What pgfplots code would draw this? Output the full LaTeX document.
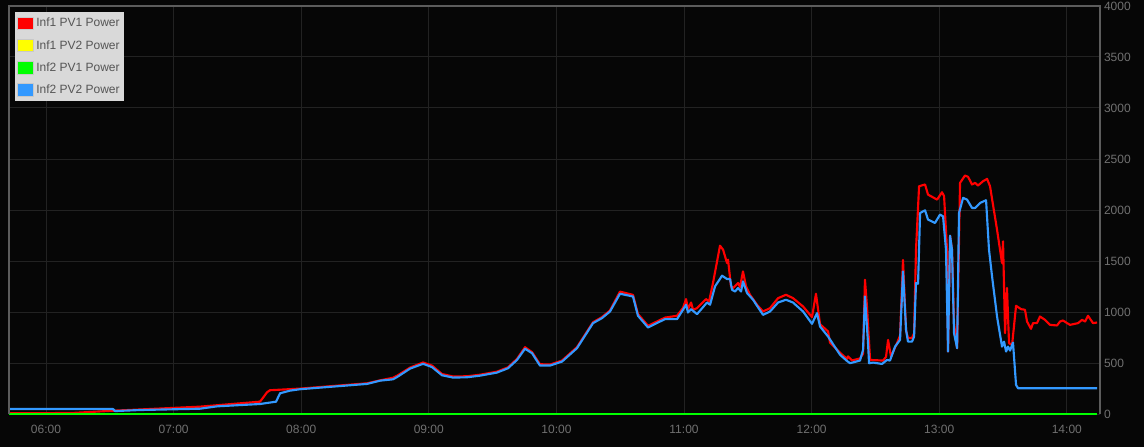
\documentclass[border=0pt]{standalone}
\usepackage{fontspec}
\setmainfont{Liberation Sans}
\usepackage{pgfplots}
\pgfplotsset{compat=1.18}
\definecolor{bgcol}{RGB}{6,6,6}
\definecolor{framecol}{RGB}{92,92,92}
\definecolor{gridcol}{RGB}{34,34,34}
\definecolor{tickcol}{RGB}{112,112,112}
\definecolor{legbg}{RGB}{217,217,217}
\definecolor{legtxt}{RGB}{85,85,85}
\definecolor{legedge}{RGB}{200,200,200}
\definecolor{pvred}{RGB}{255,0,0}
\definecolor{pvyellow}{RGB}{255,255,0}
\definecolor{pvgreen}{RGB}{0,255,0}
\definecolor{pvblue}{RGB}{51,153,255}

\pgfplotsset{
  sqlegend/.style={legend image code/.code={
    \draw[draw=legedge, line width=0.75pt, fill=#1] (0pt,-4.6pt) rectangle (12pt,4.6pt);}},
}

\begin{document}
\begin{tikzpicture}
  \fill[bgcol] (-6.75pt,-24.75pt) rectangle (851.25pt,310.5pt);
  \begin{axis}[
    at={(0,0)}, anchor=south west,
    scale only axis,
    width=818.25pt, height=306pt,
    xmin=5.710, xmax=14.260,
    ymin=0, ymax=4000,
    clip=false,
    axis line style={draw=none},
    major tick length=0pt,
    xtick={6,7,...,14},
    xticklabels={06:00,07:00,08:00,09:00,10:00,11:00,12:00,13:00,14:00},
    ytick={0,500,...,4000},
    yticklabels={0,500,1000,1500,2000,2500,3000,3500,4000},
    yticklabel pos=right,
    yticklabel style={anchor=west, xshift=-0.5pt},
    xticklabel style={yshift=-5pt},
    tick label style={font=\fontsize{9}{10}\selectfont, text=tickcol},
    grid=major,
    grid style={gridcol, line width=0.75pt},
    every axis plot/.append style={line join=round},
    legend cell align=left,
    legend style={at={(axis description cs:0,1)}, anchor=north west,
      xshift=4.5pt, yshift=-4.5pt,
      fill=legbg, draw=none, text=legtxt,
      font=\fontsize{9}{10}\selectfont,
      inner xsep=1pt, inner ysep=2.5pt,
      row sep=4.6pt},
  ]
    % Inf1 PV1 Power
    \addplot[pvred, line width=1.6pt, sqlegend=pvred] coordinates {
      (5.710,7) (6.200,10) (6.525,32) (7.207,72) (7.677,121) (7.701,160) (7.732,213)
      (7.755,233) (7.991,249) (8.516,301) (8.618,330) (8.719,355) (8.751,375)
      (8.853,455) (8.955,505) (9.025,475) (9.103,392) (9.190,368) (9.299,370)
      (9.401,385) (9.534,415) (9.621,458) (9.691,540) (9.754,655) (9.809,606)
      (9.871,488) (9.950,485) (10.044,524) (10.161,655) (10.287,900) (10.357,950)
      (10.420,1015) (10.498,1200) (10.600,1168) (10.639,980) (10.718,865)
      (10.796,912) (10.851,945) (10.945,963) (10.992,1040) (11.016,1127)
      (11.031,1028) (11.055,1093) (11.071,1022) (11.102,1038) (11.172,1127)
      (11.196,1103) (11.227,1284) (11.282,1650) (11.306,1611) (11.337,1480)
      (11.345,1513) (11.368,1251) (11.384,1235) (11.423,1284) (11.439,1245)
      (11.462,1398) (11.486,1251) (11.517,1169) (11.572,1071) (11.619,1005)
      (11.674,1038) (11.737,1136) (11.799,1169) (11.854,1136) (11.933,1054)
      (12.003,950) (12.034,1179) (12.066,880) (12.129,809) (12.144,700)
      (12.223,600) (12.277,540) (12.285,565) (12.316,525) (12.379,545)
      (12.403,590) (12.418,1316) (12.434,1050) (12.458,530) (12.560,524)
      (12.583,560) (12.599,727) (12.622,563) (12.669,694) (12.693,770)
      (12.716,1510) (12.740,820) (12.755,745) (12.787,745) (12.803,793)
      (12.818,1611) (12.842,2233) (12.889,2250) (12.912,2151) (12.983,2102)
      (13.022,2174) (13.038,2135) (13.061,1611) (13.069,612) (13.085,1748)
      (13.100,1611) (13.116,891) (13.140,645) (13.163,2266) (13.202,2338)
      (13.226,2325) (13.257,2250) (13.281,2266) (13.304,2240) (13.343,2282)
      (13.375,2305) (13.398,2233) (13.453,1807) (13.492,1480) (13.500,1693)
      (13.516,793) (13.531,1235) (13.547,694) (13.571,678) (13.602,1061)
      (13.641,1028) (13.672,1022) (13.688,907) (13.719,835) (13.735,891)
      (13.766,891) (13.790,956) (13.829,923) (13.868,874) (13.923,868)
      (13.947,907) (13.970,917) (14.002,891) (14.025,874) (14.088,891)
      (14.119,923) (14.143,907) (14.166,963) (14.205,891) (14.237,897)
    };
    \addlegendentry{Inf1 PV1 Power}

    % Inf1 PV2 Power
    \addplot[pvyellow, line width=1.9pt, sqlegend=pvyellow] coordinates {
      (5.710,0) (14.237,0)
    };
    \addlegendentry{Inf1 PV2 Power}

    % Inf2 PV1 Power
    \addplot[pvgreen, line width=1.9pt, sqlegend=pvgreen] coordinates {
      (5.710,0) (14.237,0)
    };
    \addlegendentry{Inf2 PV1 Power}

    % Inf2 PV2 Power
    \addplot[pvblue, line width=1.6pt, sqlegend=pvblue] coordinates {
      (5.710,49) (6.525,49) (6.541,29) (6.737,39) (7.207,52) (7.340,75)
      (7.677,98) (7.803,121) (7.834,203) (7.912,229) (7.991,243) (8.516,295)
      (8.618,327) (8.719,340) (8.751,362) (8.853,445) (8.955,492) (9.025,460)
      (9.103,380) (9.190,357) (9.299,360) (9.401,376) (9.534,406) (9.621,449)
      (9.691,530) (9.754,640) (9.809,596) (9.871,475) (9.950,475) (10.044,514)
      (10.161,645) (10.287,891) (10.357,940) (10.420,1005) (10.498,1179)
      (10.600,1152) (10.639,963) (10.718,848) (10.796,897) (10.851,930)
      (10.945,930) (10.992,1022) (11.016,1071) (11.031,995) (11.055,1028)
      (11.102,979) (11.180,1093) (11.204,1071) (11.243,1251) (11.298,1356)
      (11.337,1323) (11.361,1323) (11.376,1218) (11.400,1201) (11.423,1235)
      (11.447,1201) (11.462,1300) (11.494,1186) (11.541,1120) (11.619,972)
      (11.674,1005) (11.737,1093) (11.799,1120) (11.854,1093) (11.933,1005)
      (12.003,884) (12.042,989) (12.066,858) (12.129,759) (12.223,580)
      (12.277,520) (12.301,498) (12.379,524) (12.403,629) (12.418,1152)
      (12.442,694) (12.450,498) (12.481,504) (12.552,491) (12.591,530)
      (12.614,524) (12.654,661) (12.693,727) (12.716,1398) (12.740,825)
      (12.755,710) (12.787,710) (12.803,759) (12.818,1284) (12.834,1277)
      (12.850,1971) (12.889,1997) (12.912,1906) (12.967,1873) (13.006,1955)
      (13.030,1938) (13.053,1611) (13.069,612) (13.085,1748) (13.100,1611)
      (13.116,793) (13.140,645) (13.155,1971) (13.187,2119) (13.218,2102)
      (13.257,2020) (13.281,2020) (13.320,2069) (13.367,2096) (13.390,1611)
      (13.414,1349) (13.453,956) (13.492,661) (13.508,710) (13.524,612)
      (13.539,661) (13.555,622) (13.578,700) (13.602,285) (13.618,252)
      (14.237,252)
    };
    \addlegendentry{Inf2 PV2 Power}

    % frame: left, top and right edges only
    \draw[framecol, line width=1.5pt]
      (axis description cs:0,0) -- (axis description cs:0,1)
      -- (axis description cs:1,1) -- (axis description cs:1,0);
  \end{axis}
  \pgfresetboundingbox
  \useasboundingbox (-6.75pt,-24.75pt) rectangle (851.25pt,310.5pt);
\end{tikzpicture}
\end{document}
